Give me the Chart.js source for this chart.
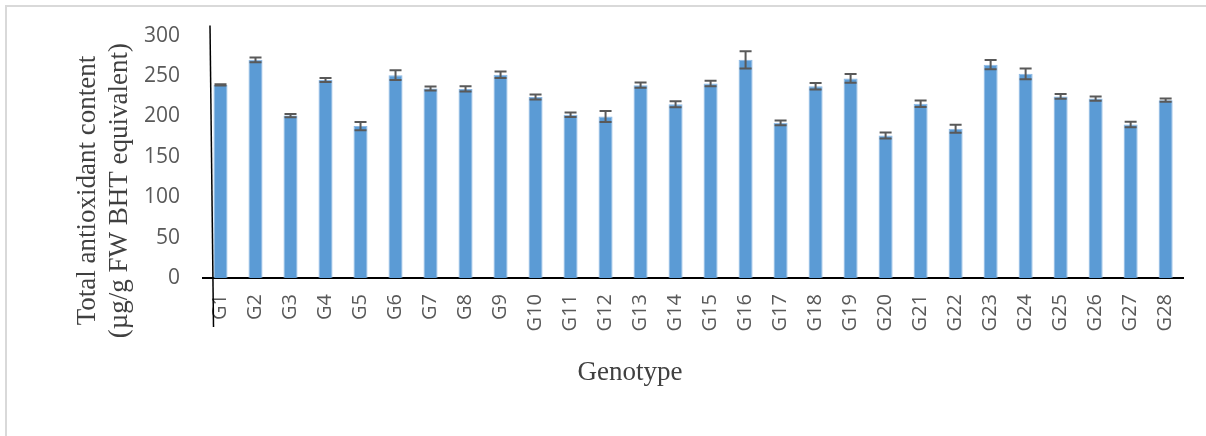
<!DOCTYPE html>
<html>
<head>
<meta charset="utf-8">
<title>Total antioxidant content by genotype</title>
<script src="https://cdn.jsdelivr.net/npm/chart.js@4/dist/chart.umd.min.js"></script>
<style>
  html, body { margin: 0; padding: 0; background: #fff; overflow: hidden; }
  #wrap { position: relative; width: 1206px; height: 436px; }
  #frame {
    position: absolute; left: 5px; top: 5px; width: 1220px; height: 450px;
    border: 2px solid #d9d9d9; box-sizing: border-box;
  }
  canvas { position: absolute; left: 0; top: 0; }
</style>
</head>
<body>
<div id="wrap">
  <div id="frame"></div>
  <canvas id="chart" width="1206" height="436"></canvas>
</div>
<script>
// ── Data ──────────────────────────────────────────────────────────────────
const genotypes = ['G1', 'G2', 'G3', 'G4', 'G5', 'G6', 'G7', 'G8', 'G9', 'G10',
                   'G11', 'G12', 'G13', 'G14', 'G15', 'G16', 'G17', 'G18', 'G19', 'G20',
                   'G21', 'G22', 'G23', 'G24', 'G25', 'G26', 'G27', 'G28'];
const means  = [239, 270, 201, 245, 188, 251, 234.6, 234, 251.5, 224,
                202, 200, 238.7, 215, 240.7, 270, 192, 237.4, 247, 176.5,
                215.6, 184.8, 264, 252.7, 224.7, 222, 190, 220];
const errors = [0.7, 3, 2, 2.5, 5, 6, 2.5, 3.3, 4, 3,
                2.7, 6.8, 3.3, 3.7, 3.3, 10.7, 3, 4, 5.4, 3.7,
                4, 5, 5.8, 6.6, 3, 2.7, 3.3, 2];
const yTicks = [0, 50, 100, 150, 200, 250, 300];

const yTitle = ['Total antioxidant content', '(\u00b5g/g FW BHT equivalent)'];
const xTitle = 'Genotype';

// ── Plugins ───────────────────────────────────────────────────────────────
const errorBars = {
  id: 'errorBars',
  afterDatasetsDraw(chart) {
    const { ctx, scales: { x, y } } = chart;
    ctx.save();
    ctx.strokeStyle = '#595959';
    ctx.lineWidth = 2;
    means.forEach((m, i) => {
      const px = x.getPixelForValue(i);
      const hi = y.getPixelForValue(m + errors[i]);
      const lo = y.getPixelForValue(m - errors[i]);
      ctx.beginPath();
      ctx.moveTo(px, hi); ctx.lineTo(px, lo);
      ctx.moveTo(px - 6, hi); ctx.lineTo(px + 6, hi);
      ctx.moveTo(px - 6, lo); ctx.lineTo(px + 6, lo);
      ctx.stroke();
    });
    ctx.restore();
  }
};

const decorations = {
  id: 'decorations',
  afterDraw(chart) {
    const { ctx, chartArea: a } = chart;
    ctx.save();
    // hand-drawn looking vertical axis line
    ctx.strokeStyle = '#000';
    ctx.lineWidth = 1.5;
    ctx.beginPath();
    ctx.moveTo(a.left + 7, a.top - 10);
    ctx.lineTo(a.left + 10.5, a.bottom + 49);
    ctx.stroke();

    // axis titles
    ctx.fillStyle = '#404040';
    ctx.font = '27px "Liberation Serif", "Times New Roman", serif';
    ctx.textAlign = 'center';
    ctx.textBaseline = 'middle';
    ctx.fillText(xTitle, a.left + 427, a.bottom + 95);

    ctx.translate(a.left - 115, a.top + 155);
    ctx.rotate(-Math.PI / 2);
    yTitle.forEach((line, i) => ctx.fillText(line, 0, i * 32));
    ctx.restore();
  }
};

// ── Chart ─────────────────────────────────────────────────────────────────
const fontFamily = '"Open Sans", "Noto Sans", sans-serif';

new Chart(document.getElementById('chart').getContext('2d'), {
  type: 'bar',
  data: {
    labels: genotypes,
    datasets: [{
      data: means,
      backgroundColor: '#5b9bd5',
      borderColor: '#8db8e3',
      borderWidth: 1,
      categoryPercentage: 1,
      barPercentage: 0.4,
    }],
  },
  options: {
    responsive: false,
    animation: false,
    events: [],
    layout: { padding: { top: 35, right: 20, bottom: 40, left: 0 } },
    plugins: { legend: { display: false }, tooltip: { enabled: false } },
    scales: {
      x: {
        grid: { display: false, drawTicks: false },
        border: { display: true, color: '#000', width: 2 },
        ticks: {
          color: '#595959', font: { family: fontFamily, size: 20 }, padding: 16,
          minRotation: 90, maxRotation: 90, autoSkip: false,
        },
        afterFit(s) { s.height = 118; },
      },
      y: {
        min: 0, max: 300,
        afterBuildTicks(s) { s.ticks = yTicks.map(v => ({ value: v })); },
        grid: { display: false, drawTicks: false },
        border: { display: false },
        ticks: { color: '#595959', font: { family: fontFamily, size: 21 }, padding: 23 },
        afterFit(s) { s.width = 203; },
      },
    },
  },
  plugins: [errorBars, decorations],
});
</script>
</body>
</html>
